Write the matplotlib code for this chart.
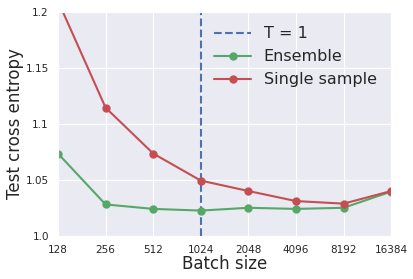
import numpy as np
import matplotlib
matplotlib.use('Agg')
import matplotlib.pyplot as plt
import seaborn as sns

sns.set_style('darkgrid')

batch_sizes = [128, 256, 512, 1024, 2048, 4096, 8192, 16384]
ensemble = [1.0735, 1.028, 1.024, 1.0225, 1.025, 1.024, 1.025, 1.0395]
single = [1.21, 1.1145, 1.0735, 1.0493, 1.040, 1.031, 1.0287, 1.040]
t1_batch = 1024

fig, ax = plt.subplots(figsize=(4.14, 2.79), dpi=100)

ax.axvline(t1_batch, color='#4C72B0', ls='--', lw=1.5, label='T = 1')
ax.plot(batch_sizes, ensemble, '-o', color='#55A868', lw=1.5, ms=5, label='Ensemble')
ax.plot(batch_sizes, single, '-o', color='#C44E52', lw=1.5, ms=5, label='Single sample')

ax.set_xscale('log', base=2)
ax.set_xticks(batch_sizes)
ax.set_xticklabels([str(b) for b in batch_sizes])
ax.minorticks_off()
ax.set_xlim(128, 16384)
ax.set_ylim(1.0, 1.2)
ax.set_yticks([1.0, 1.05, 1.1, 1.15, 1.2])
ax.set_yticklabels(['1.0', '1.05', '1.1', '1.15', '1.2'])
ax.tick_params(labelsize=7.5, pad=3)

ax.set_xlabel('Batch size', fontsize=12, labelpad=0)
ax.set_ylabel('Test cross entropy', fontsize=12, labelpad=1)
ax.legend(loc='upper right', fontsize=11.5, frameon=False, handlelength=2.3)

fig.subplots_adjust(left=0.14, right=0.945, top=0.957, bottom=0.155)
fig.savefig('out.png', dpi=100)
